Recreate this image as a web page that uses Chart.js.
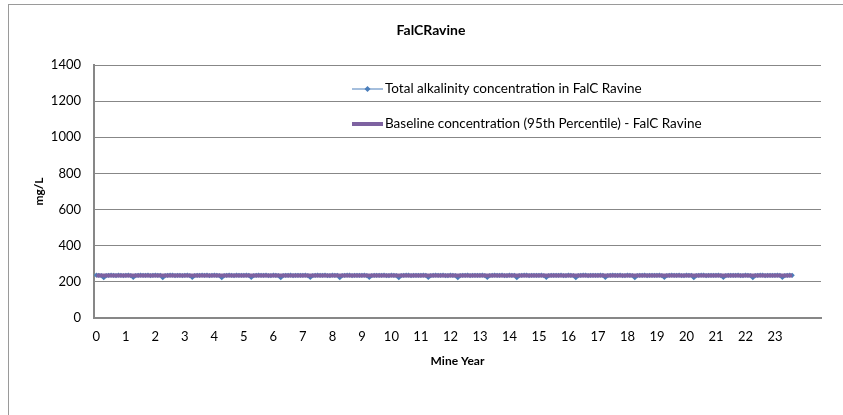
<!DOCTYPE html>
<html>
<head>
<meta charset="utf-8">
<script src="https://cdn.jsdelivr.net/npm/chart.js@4/dist/chart.umd.min.js"></script>
<style>
  html,body{margin:0;padding:0;background:#fff;}
  #wrap{position:relative;width:843px;height:415px;}
  #frame{position:absolute;left:8px;top:4px;width:840px;height:420px;border-left:1px solid #9a9a9a;border-top:1px solid #9a9a9a;}
  canvas{position:absolute;left:0;top:0;}
</style>
</head>
<body>
<div id="wrap"><div id="frame"></div><canvas id="c" width="843" height="415"></canvas></div>
<script>
// ---- data ----
const chartTitle = "FalCRavine";
const xAxisTitle = "Mine Year";
const yAxisTitle = "mg/L";
const seriesName = "Total alkalinity concentration in FalC Ravine";
const baselineName = "Baseline concentration (95th Percentile) - FalC Ravine";
const xTickLabels = [0,1,2,3,4,5,6,7,8,9,10,11,12,13,14,15,16,17,18,19,20,21,22,23];
const yTickLabels = [0,200,400,600,800,1000,1200,1400];
// monthly values (12 per year), mine years 0 .. 23.58
const alkalinity = [
 237,236,235,223,234,236,237,236,235,237,236,235,
 236,237,235,224,235,236,237,236,236,237,235,236,
 237,236,236,223,234,236,237,237,235,236,236,235,
 236,237,235,224,235,236,236,237,236,237,235,236,
 237,236,235,223,235,236,237,236,235,237,236,236,
 236,237,236,224,234,236,237,236,236,237,235,235,
 237,236,235,223,235,236,236,237,235,236,236,236,
 236,237,235,224,234,236,237,236,236,237,235,235,
 237,236,236,223,235,236,237,237,235,236,236,236,
 236,237,235,224,234,236,236,236,236,237,235,235,
 237,236,235,223,235,236,237,237,235,236,236,236,
 236,237,236,224,234,236,237,236,236,237,235,235,
 237,236,235,223,235,236,236,237,235,236,236,236,
 236,237,235,224,234,236,237,236,236,237,235,235,
 237,236,236,223,235,236,237,237,235,236,236,236,
 236,237,235,224,234,236,236,236,236,237,235,235,
 237,236,235,223,235,236,237,237,235,236,236,236,
 236,237,236,224,234,236,237,236,236,237,235,235,
 237,236,235,223,235,236,236,237,235,236,236,236,
 236,237,235,224,234,236,237,236,236,237,235,235,
 237,236,236,223,235,236,237,237,235,236,236,236,
 236,237,235,224,234,236,236,236,236,237,235,235,
 237,236,235,223,235,236,237,237,235,236,236,236,
 236,237,236,224,234,236,237,236
];
const monthsPerYear = 12;
const mineYears = alkalinity.map((_, i) => i / monthsPerYear);
const baselineYears = [0, mineYears[mineYears.length - 1]];
const baselineValues = [235, 235];

// ---- chart ----
const FONT = "Lato, 'Liberation Sans', sans-serif";
Chart.defaults.font.family = FONT;
Chart.defaults.font.size = 13;
Chart.defaults.color = "#000";

const blue = "#4A7EBB";
const purple = "#7E62A1";
const gridGray = "#878787";

const textPlugin = {
  id: "insideLegend",
  afterDraw(chart) {
    const ctx = chart.ctx;
    ctx.save();
    // chart title
    ctx.font = "bold 14px " + FONT;
    ctx.textAlign = "center";
    ctx.textBaseline = "middle";
    ctx.fillStyle = "#000";
    ctx.fillText(chartTitle, 431, 30);
    // legend inside plot area
    const items = [
      {label: seriesName, color: blue, width: 1, marker: true, y: 89},
      {label: baselineName, color: purple, width: 4, marker: false, y: 124}
    ];
    ctx.font = "13.5px " + FONT;
    ctx.textAlign = "left";
    items.forEach(it => {
      ctx.strokeStyle = it.color;
      ctx.lineWidth = it.width;
      ctx.beginPath();
      ctx.moveTo(352, it.y);
      ctx.lineTo(383, it.y);
      ctx.stroke();
      if (it.marker) {
        ctx.fillStyle = it.color;
        ctx.beginPath();
        ctx.moveTo(367.5, it.y - 3);
        ctx.lineTo(370.5, it.y);
        ctx.lineTo(367.5, it.y + 3);
        ctx.lineTo(364.5, it.y);
        ctx.closePath();
        ctx.fill();
      }
      ctx.fillStyle = "#000";
      ctx.fillText(it.label, 385, it.y);
    });
    ctx.restore();
  }
};

new Chart(document.getElementById("c"), {
  type: "line",
  data: {
    datasets: [
      {
        label: seriesName,
        data: mineYears.map((x, i) => ({x: x, y: alkalinity[i]})),
        borderColor: blue,
        backgroundColor: blue,
        borderWidth: 1.5,
        pointStyle: "rectRot",
        pointRadius: 2.6,
        pointBorderWidth: 0,
        tension: 0,
        order: 2
      },
      {
        label: baselineName,
        data: baselineYears.map((x, i) => ({x: x, y: baselineValues[i]})),
        borderColor: purple,
        backgroundColor: purple,
        borderWidth: 4,
        pointRadius: 0,
        order: 1
      }
    ]
  },
  options: {
    responsive: false,
    animation: false,
    layout: {padding: {left: 0, right: 22, top: 65, bottom: 0}},
    plugins: {
      legend: {display: false},
      tooltip: {enabled: false},
      title: {display: false}
    },
    scales: {
      x: {
        type: "linear",
        min: -0.08,
        max: 24.56,
        afterBuildTicks: s => { s.ticks = xTickLabels.map(v => ({value: v})); },
        afterFit: s => { s.height = 97; },
        grid: {display: false, drawTicks: false},
        border: {display: true, color: gridGray, width: 2},
        ticks: {padding: 11, maxRotation: 0, autoSkip: false, font: {size: 13}, callback: v => String(v)},
        title: {display: true, text: xAxisTitle, font: {size: 12, weight: "bold"}, padding: {top: 8, bottom: 47}}
      },
      y: {
        min: 0,
        max: 1400,
        afterBuildTicks: s => { s.ticks = yTickLabels.map(v => ({value: v})); },
        afterFit: s => { s.width = 94; },
        grid: {color: gridGray, lineWidth: 1, drawTicks: false},
        border: {display: true, color: gridGray, width: 2},
        ticks: {padding: 13, font: {size: 13}, callback: v => String(v)},
        title: {display: true, text: yAxisTitle, font: {size: 12, weight: "bold"}, padding: {top: 32, bottom: 0}}
      }
    }
  },
  plugins: [textPlugin]
});
</script>
</body>
</html>
